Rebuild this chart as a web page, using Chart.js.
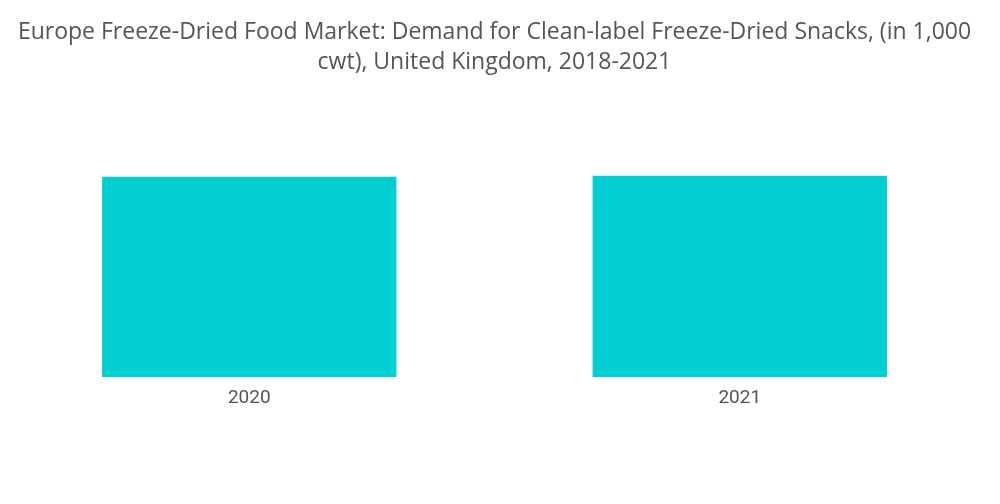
<!DOCTYPE html>
<html lang="en">
  <head>
    <meta charset="utf-8" />
    <title>Europe Freeze-Dried Food Market</title>
    <style>
      * {
        margin: 0;
        padding: 0;
      }
      body {
        background: white;
      }
      .chartBox {
        width: 1000px;
        height: 504px;
      }
    </style>
  </head>
  <body>
    <div class="chartBox">
      <canvas id="myChart"></canvas>
    </div>

    <script src="https://cdn.jsdelivr.net/npm/chart.js"></script>

    <script>
      // data block
      const years = ["2020", "2021"];
      const demand = [100, 100.5];

      const titleLines = [
        "Europe Freeze-Dried Food Market: Demand for Clean-label Freeze-Dried Snacks, (in 1,000",
        "cwt), United Kingdom, 2018-2021",
      ];

      // config block
      const config = {
        type: "bar",
        data: {
          labels: years,
          datasets: [
            {
              label: "Demand",
              data: demand,
              backgroundColor: "#00CED1",
              borderWidth: 0,
              barPercentage: 0.6,
              categoryPercentage: 1,
            },
          ],
        },
        options: {
          responsive: true,
          maintainAspectRatio: false,
          animation: false,
          layout: {
            padding: { left: 4, right: 15, top: 0, bottom: 84 },
          },
          plugins: {
            legend: { display: false },
            tooltip: { enabled: false },
            title: {
              display: true,
              text: titleLines,
              color: "#555555",
              font: { family: "Open Sans", size: 23, weight: "normal", lineHeight: 1.3 },
              padding: { top: 18, bottom: 59 },
            },
          },
          scales: {
            x: {
              grid: { display: false, drawTicks: false },
              border: { display: false },
              ticks: {
                color: "#555555",
                padding: 10,
                font: { family: "Roboto", size: 19 },
              },
            },
            y: {
              display: false,
              min: 0,
              max: 120,
            },
          },
        },
      };

      // init render block
      const ctx = document.getElementById("myChart");
      const myChart = new Chart(ctx, config);
    </script>
  </body>
</html>
